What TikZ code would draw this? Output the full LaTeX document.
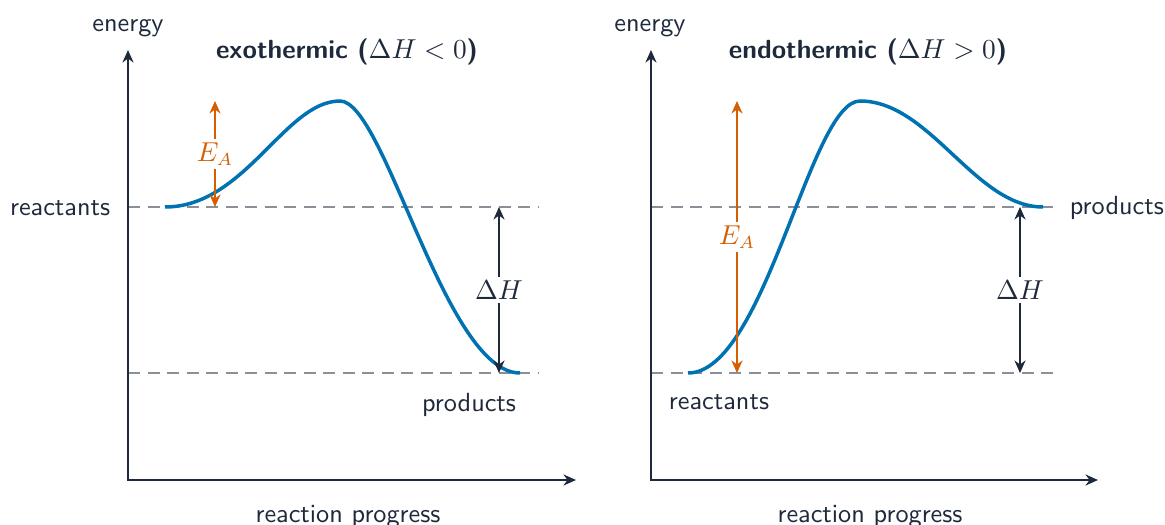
\documentclass[tikz,border=0pt]{standalone}
\usetikzlibrary{arrows.meta}
\definecolor{ink}{HTML}{1E293B}
\definecolor{curvec}{HTML}{0072B2}
\definecolor{eacol}{HTML}{D55E00}
\definecolor{lvl}{HTML}{8A8F98}
\newcommand{\basefont}{\fontsize{10.5}{12}\selectfont\sffamily}
\begin{document}
\begin{tikzpicture}[x=0.4pt,y=-0.4pt,
  every node/.style={font=\basefont, text=ink},
  axis/.style={draw=ink, line width=0.95pt, {Stealth[length=5pt,width=4.4pt]}-{Stealth[length=5pt,width=4.4pt]}},
  level/.style={draw=lvl, line width=0.65pt, dash pattern=on 4.8pt off 3pt},
  energy/.style={draw=curvec, line width=1.4pt},
  earrow/.style={draw=eacol, line width=0.95pt, {Stealth[length=5pt,width=4.4pt]}-{Stealth[length=5pt,width=4.4pt]}},
  dharrow/.style={draw=ink, line width=0.95pt, {Stealth[length=5pt,width=4.4pt]}-{Stealth[length=5pt,width=4.4pt]}},
  lab/.style={fill=white, inner sep=1.5pt},
  title/.style={font=\basefont\bfseries}]
\useasboundingbox (0,0) rectangle (1165,525);

% ---------- left panel: exothermic ----------
\coordinate (Y1) at (128,50);
\coordinate (O1) at (128,480);
\coordinate (X1) at (576,480);
\coordinate (r1a) at (128,207);
\coordinate (r1b) at (538,207);
\coordinate (p1a) at (128,373);
\coordinate (p1b) at (538,373);
\coordinate (ea1t) at (215,101);
\coordinate (ea1b) at (215,207);
\coordinate (dh1t) at (499,207);
\coordinate (dh1b) at (499,373);

\draw[level] (r1a) -- (r1b);
\draw[level] (p1a) -- (p1b);
\draw[axis] (Y1) -- (O1) -- (X1);
\draw[energy] (165,207) .. controls (245,207) and (285,101) .. (340,101)
                        .. controls (385,101) and (445,373) .. (520,373);
\draw[earrow] (ea1b) -- node[lab, text=eacol] {$E_A$} (ea1t);
\draw[dharrow] (dh1t) -- node[lab] {$\Delta H$} (dh1b);

\node (en1) at (128,28) {energy};
\node[title] (t1) at (347,52) {exothermic (\mbox{\mdseries$\Delta H<0$})};
\node[anchor=east] (rl1) at (119,208) {reactants};
\node (pl1) at (469,405) {products};
\node (xl1) at (348,517) {reaction progress};

% ---------- right panel: endothermic ----------
\coordinate (Y2) at (651,50);
\coordinate (O2) at (651,480);
\coordinate (X2) at (1098,480);
\coordinate (r2a) at (651,373);
\coordinate (r2b) at (1060,373);
\coordinate (p2a) at (651,207);
\coordinate (p2b) at (1060,207);
\coordinate (ea2t) at (737,101);
\coordinate (ea2b) at (737,373);
\coordinate (dh2t) at (1020,207);
\coordinate (dh2b) at (1020,373);

\draw[level] (r2a) -- (r2b);
\draw[level] (p2a) -- (p2b);
\draw[axis] (Y2) -- (O2) -- (X2);
\draw[energy] (688,373) .. controls (765,373) and (810,101) .. (860,101)
                        .. controls (930,101) and (975,207) .. (1043,207);
\draw[earrow] (ea2b) -- node[lab, text=eacol] {$E_A$} (ea2t);
\draw[dharrow] (dh2t) -- node[lab] {$\Delta H$} (dh2b);

\node (en2) at (650,28) {energy};
\node[title] (t2) at (868,52) {endothermic (\mbox{\mdseries$\Delta H>0$})};
\node[anchor=west] (pl2) at (1061,208) {products};
\node (rl2) at (719,402) {reactants};
\node (xl2) at (870,517) {reaction progress};
\end{tikzpicture}
\end{document}
